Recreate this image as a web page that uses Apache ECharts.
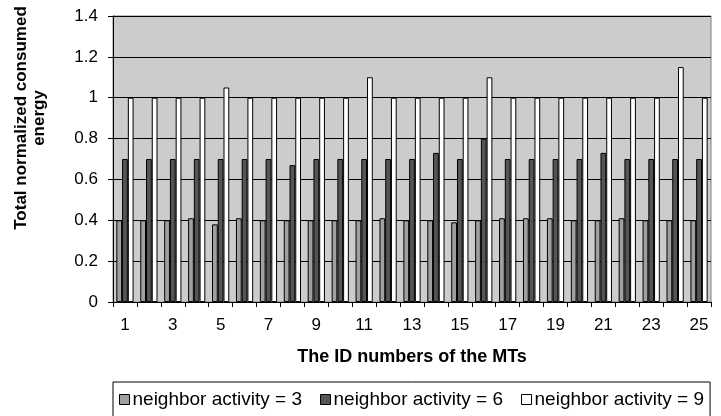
<!DOCTYPE html>
<html><head><meta charset="utf-8">
<script src="https://cdn.jsdelivr.net/npm/echarts@6/dist/echarts.min.js"></script>
<style>html,body{margin:0;padding:0;background:#fff}#c{width:721px;height:416px}</style>
</head><body><div id="c"></div>
<script>
const categories = ['1','2','3','4','5','6','7','8','9','10','11','12','13','14','15','16','17','18','19','20','21','22','23','24','25'];
const act3 = [0.40,0.40,0.40,0.41,0.38,0.41,0.40,0.40,0.40,0.40,0.40,0.41,0.40,0.40,0.39,0.40,0.41,0.41,0.41,0.40,0.40,0.41,0.40,0.40,0.40];
const act6 = [0.70,0.70,0.70,0.70,0.70,0.70,0.70,0.67,0.70,0.70,0.70,0.70,0.70,0.73,0.70,0.80,0.70,0.70,0.70,0.70,0.73,0.70,0.70,0.70,0.70];
const act9 = [1.00,1.00,1.00,1.00,1.05,1.00,1.00,1.00,1.00,1.00,1.10,1.00,1.00,1.00,1.00,1.10,1.00,1.00,1.00,1.00,1.00,1.00,1.00,1.15,1.00];
const seriesNames = ['neighbor activity = 3','neighbor activity = 6','neighbor activity = 9'];
const yTicks = [0,0.2,0.4,0.6,0.8,1,1.2,1.4];
const xTitle = 'The ID numbers of the MTs';
const yTitle = 'Total normalized consumed\nenergy';

const font = 'Liberation Sans, Arial, sans-serif';
const chart = echarts.init(document.getElementById('c'), null, {renderer:'canvas'});
const bar = (name, data, color) => ({
  name, type:'bar', data, barGap:'0%', barCategoryGap:'28%',
  itemStyle:{color, borderColor:'#000', borderWidth:1},
  emphasis:{disabled:true}
});
chart.setOption({
  animation:false,
  backgroundColor:'#fff',
  textStyle:{fontFamily:font},
  grid:{left:113,right:10,top:16,bottom:114,show:true,backgroundColor:'#cccccc',borderColor:'#808080',borderWidth:1},
  legend:{
    data:seriesNames, left:113, top:382, right:3,
    width:605,
    itemWidth:10, itemHeight:10, itemGap:18, padding:[8,6,10,6],
    borderColor:'#000', borderWidth:1,
    icon:'rect',
    itemStyle:{borderColor:'#000',borderWidth:1},
    textStyle:{fontFamily:font,fontSize:19,color:'#000',padding:[0,0,0,-2]}
  },
  graphic:[{
    type:'text', x:30, y:118, rotation:Math.PI/2,
    style:{text:yTitle, font:'bold 17px '+font, fill:'#000', textAlign:'center', textVerticalAlign:'middle', lineHeight:18}
  }],
  xAxis:{
    type:'category', data:categories, boundaryGap:true,
    name:xTitle, nameLocation:'middle', nameGap:46,
    nameTextStyle:{fontFamily:font,fontSize:18,fontWeight:'bold',color:'#000'},
    axisLine:{lineStyle:{color:'#000',width:1}},
    axisTick:{show:true,interval:0,length:5,lineStyle:{color:'#000'}},
    axisLabel:{interval:1,color:'#000',fontSize:17,fontFamily:font,margin:15}
  },
  yAxis:{
    type:'value', min:0, max:1.4, interval:0.2,
    axisLine:{show:true,lineStyle:{color:'#000'}},
    axisTick:{show:true,length:5,lineStyle:{color:'#000'}},
    axisLabel:{color:'#000',fontSize:17,fontFamily:font,margin:15,
      formatter:v=>{const t=yTicks.find(x=>Math.abs(x-v)<1e-9);return String(t!==undefined?t:v);}},
    splitLine:{show:true,lineStyle:{color:'#000',width:1}}
  },
  series:[
    bar(seriesNames[0], act3, '#a0a0a0'),
    bar(seriesNames[1], act6, '#555555'),
    bar(seriesNames[2], act9, '#ffffff')
  ]
});
</script></body></html>
